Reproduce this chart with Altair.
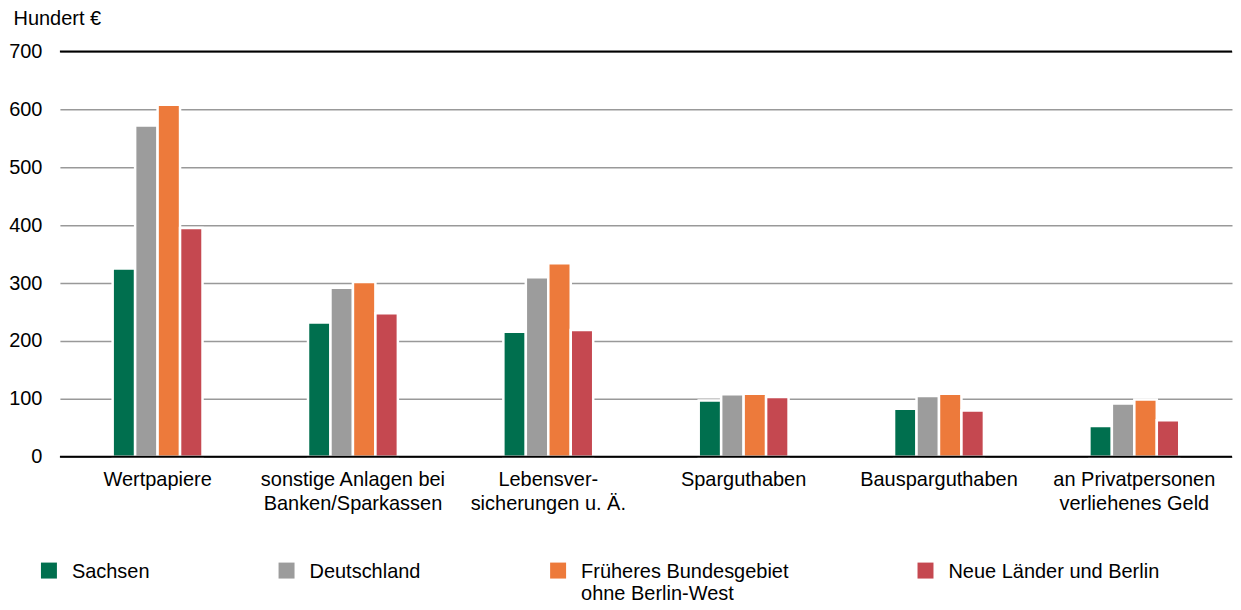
import altair as alt
import pandas as pd

categories = ["Wertpapiere", "sonstige Anlagen bei|Banken/Sparkassen", "Lebensver-|sicherungen u. Ä.",
              "Sparguthaben", "Bausparguthaben", "an Privatpersonen|verliehenes Geld"]
series = ["Sachsen", "Deutschland", "Früheres Bundesgebiet|ohne Berlin-West", "Neue Länder und Berlin"]
sachsen = [325, 232, 216, 97, 83, 53]
deutschland = [572, 292, 310, 108, 105, 92]
frueheres = [608, 302, 334, 109, 109, 99]
neue = [395, 248, 219, 103, 80, 63]
colors = ["#006F4E", "#9C9C9C", "#ED7A3B", "#C54850"]
y_ticks = [0, 100, 200, 300, 400, 500, 600, 700]

rows = []
for s, vals in zip(series, [sachsen, deutschland, frueheres, neue]):
    for c, v in zip(categories, vals):
        rows.append({"Kategorie": c, "Gebiet": s, "Wert": v})
df = pd.DataFrame(rows)

FONT = "Liberation Sans"

bars = alt.Chart(df).mark_bar(stroke="white", strokeWidth=2.5).encode(
    x=alt.X("Kategorie:N", sort=categories,
            scale=alt.Scale(paddingInner=0.54, paddingOuter=0.27),
            axis=alt.Axis(title=None, labelAngle=0, ticks=False, domain=False,
                          labelExpr="split(datum.label, '|')", labelFontSize=20,
                          labelLineHeight=24, labelPadding=13, labelBaseline="top",
                          labelColor="black", labelLimit=400)),
    xOffset=alt.XOffset("Gebiet:N", sort=series, scale=alt.Scale(paddingInner=0, paddingOuter=0)),
    y=alt.Y("Wert:Q", scale=alt.Scale(domain=[0, 700], nice=False),
            axis=alt.Axis(values=y_ticks, title="Hundert €", titleAngle=0, titleAlign="left",
                          titleBaseline="alphabetic", titleX=-47, titleY=-27,
                          titleFontSize=20, titleFontWeight="normal", titleColor="black",
                          labelFontSize=20, labelColor="black", labelPadding=18,
                          ticks=False, domain=False, grid=True, gridColor="#999999",
                          gridWidth=1.5)),
    color=alt.Color("Gebiet:N", sort=series,
                    scale=alt.Scale(domain=series, range=colors),
                    legend=alt.Legend(title=None, orient="none", legendX=-21, legendY=517,
                                      direction="horizontal", columns=4, columnPadding=127,
                                      symbolType="M-1,-1.875H1V0.125H-1Z", symbolSize=256,
                                      symbolStrokeWidth=0,
                                      labelFontSize=20, labelColor="black", labelLimit=400,
                                      labelOffset=13,
                                      labelExpr="indexof(datum.label, '|') >= 0 ? split(datum.label, '|') : [datum.label, ' ']",
                                      labelBaseline="alphabetic", padding=0)),
)

rules = alt.Chart(pd.DataFrame({"y": [0, 700]})).mark_rule(color="black", strokeWidth=2).encode(
    y=alt.Y("y:Q")
)

chart = alt.layer(bars, rules).properties(
    width=1174, height=406, padding=0
).configure(font=FONT).configure_view(stroke=None)

chart.save("out.html", embed_options={"renderer": "svg", "actions": False})
